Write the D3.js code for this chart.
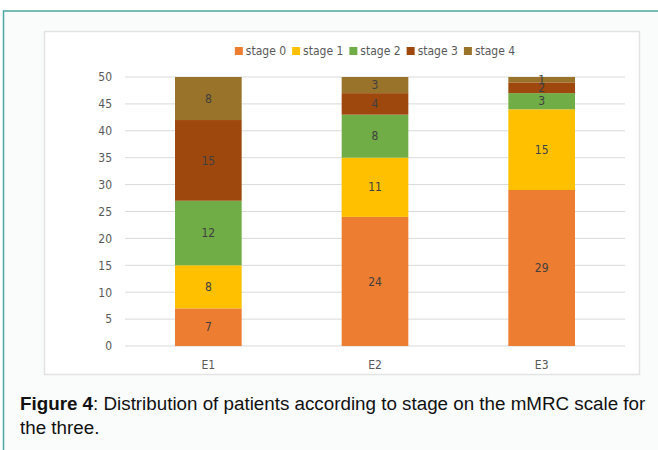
<!DOCTYPE html>
<html>
<head>
<meta charset="utf-8">
<script src="https://cdn.jsdelivr.net/npm/d3@7"></script>
<style>
  html, body { margin: 0; padding: 0; background: #fff; }
  svg { display: block; }
</style>
</head>
<body>
<svg id="chart" width="658" height="450"></svg>
<script>
// data
const categories = ['E1', 'E2', 'E3'];
const stages = ['stage 0', 'stage 1', 'stage 2', 'stage 3', 'stage 4'];
const stage0 = [7, 24, 29];
const stage1 = [8, 11, 15];
const stage2 = [12, 8, 3];
const stage3 = [15, 4, 2];
const stage4 = [8, 3, 1];
const yTicks = [0, 5, 10, 15, 20, 25, 30, 35, 40, 45, 50];

const colors = ['#ED7D31', '#FFC000', '#70AD47', '#9E480E', '#997329'];
const chartFont = '"Liberation Sans Narrow", "DejaVu Sans Condensed", "Open Sans", sans-serif';

const rows = categories.map((c, i) => ({
  cat: c,
  'stage 0': stage0[i], 'stage 1': stage1[i], 'stage 2': stage2[i],
  'stage 3': stage3[i], 'stage 4': stage4[i]
}));

const svg = d3.select('#chart');

// outer panel
svg.append('rect')
  .attr('x', 3.5).attr('y', 11)
  .attr('width', 670).attr('height', 450)
  .attr('fill', '#fafbfb')
  .attr('stroke', '#4da6a3')
  .attr('stroke-width', 1.5);

// chart box
svg.append('rect')
  .attr('x', 44.5).attr('y', 31.5)
  .attr('width', 595).attr('height', 343)
  .attr('fill', '#fff')
  .attr('stroke', '#e3e3e3')
  .attr('stroke-width', 1.5);

const margin = { left: 125, right: 33, top: 77, bottom: 104 };
const innerW = 658 - margin.left - margin.right;
const innerH = 450 - margin.top - margin.bottom;
const g = svg.append('g').attr('transform', `translate(${margin.left},${margin.top})`);

const x = d3.scaleBand().domain(categories).range([0, innerW]).paddingInner(0.6).paddingOuter(0.3);
const y = d3.scaleLinear().domain([0, 50]).range([innerH, 0]);

// gridlines
g.append('g')
  .selectAll('line')
  .data(yTicks)
  .join('line')
  .attr('x1', 0).attr('x2', innerW)
  .attr('y1', d => y(d)).attr('y2', d => y(d))
  .attr('stroke', '#d9d9d9')
  .attr('stroke-width', 1);

// y axis
const yAxis = g.append('g')
  .call(d3.axisLeft(y).tickValues(yTicks).tickSize(0).tickPadding(13));
yAxis.select('.domain').remove();
yAxis.selectAll('text')
  .attr('fill', '#595959')
  .style('font-family', chartFont)
  .style('font-size', '12px');

// x axis
const xAxis = g.append('g')
  .attr('transform', `translate(0,${innerH})`)
  .call(d3.axisBottom(x).tickSize(0).tickPadding(14));
xAxis.select('.domain').remove();
xAxis.selectAll('text')
  .attr('fill', '#595959')
  .style('font-family', chartFont)
  .style('font-size', '12px');

// stacks
const series = d3.stack().keys(stages)(rows);

const layer = g.selectAll('.layer')
  .data(series)
  .join('g')
  .attr('class', 'layer')
  .attr('fill', (d, i) => colors[i]);

layer.selectAll('rect')
  .data(d => d)
  .join('rect')
  .attr('x', d => x(d.data.cat))
  .attr('y', d => y(d[1]))
  .attr('width', x.bandwidth())
  .attr('height', d => y(d[0]) - y(d[1]));

layer.selectAll('text')
  .data(d => d)
  .join('text')
  .attr('x', d => x(d.data.cat) + x.bandwidth() / 2)
  .attr('y', d => (y(d[0]) + y(d[1])) / 2)
  .attr('dy', '0.35em')
  .attr('text-anchor', 'middle')
  .attr('fill', '#404040')
  .style('font-family', chartFont)
  .style('font-size', '12px')
  .text(d => d[1] - d[0]);

// legend, laid out from measured text widths and centred
const legend = svg.append('g');
let lx = 0;
stages.forEach((s, i) => {
  const it = legend.append('g').attr('transform', `translate(${lx},0)`);
  it.append('rect')
    .attr('x', 0).attr('y', -4)
    .attr('width', 8).attr('height', 8)
    .attr('fill', colors[i]);
  const t = it.append('text')
    .attr('x', 11).attr('y', 0)
    .attr('dy', '0.35em')
    .attr('fill', '#595959')
    .style('font-family', chartFont)
    .style('font-size', '12px')
    .text(s);
  lx += 11 + t.node().getComputedTextLength() + 6;
});
legend.attr('transform', `translate(${375 - (lx - 6) / 2},51)`);

// caption
const capFont = '"Liberation Sans", Arial, sans-serif';
const cap = svg.append('text')
  .attr('x', 20).attr('y', 410)
  .attr('fill', '#111')
  .style('font-family', capFont)
  .style('font-size', '18.8px');
cap.append('tspan').attr('font-weight', 'bold').text('Figure 4');
cap.append('tspan').text(': Distribution of patients according to stage on the mMRC scale for');
svg.append('text')
  .attr('x', 20).attr('y', 434)
  .attr('fill', '#111')
  .style('font-family', capFont)
  .style('font-size', '18.8px')
  .text('the three.');
</script>
</body>
</html>
